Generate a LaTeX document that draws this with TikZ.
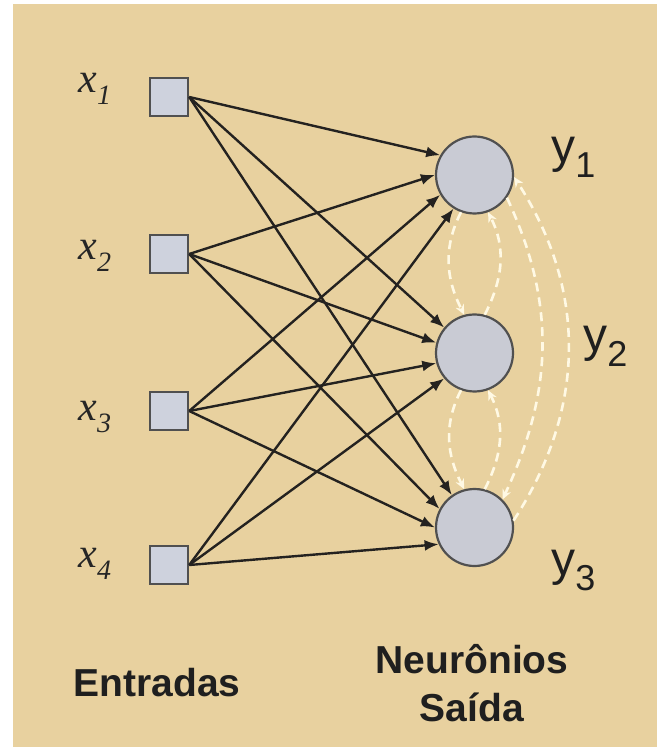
\documentclass[tikz,border=0pt]{standalone}
\usepackage{fontspec}
\setmainfont{Liberation Sans}
\newfontfamily\serifx{Liberation Serif}
\usetikzlibrary{arrows.meta}
\definecolor{tanbg}{RGB}{232,209,159}
\definecolor{circfill}{RGB}{201,203,212}
\definecolor{sqfill}{RGB}{206,210,221}
\definecolor{bordercol}{RGB}{80,80,80}
\definecolor{linecol}{RGB}{36,34,32}
\definecolor{dashcol}{RGB}{255,249,228}
\tikzset{
  inbox/.style={draw=bordercol, line width=1.2pt, fill=sqfill, minimum size=19pt, inner sep=0pt},
  neuron/.style={circle, draw=bordercol, line width=1.1pt, fill=circfill, minimum size=38.5pt, inner sep=0pt},
  conn/.style={draw=linecol, line width=1.2pt, -{Latex[length=7pt,width=5.5pt]}},
  feedback/.style={draw=dashcol, line width=1.3pt, dash pattern=on 4.5pt off 3pt, -{Stealth[length=5pt,width=4.5pt]}},
  ylab/.style={anchor=base west, inner sep=0pt, font=\fontsize{24}{24}\selectfont, text=black!88},
  xlab/.style={anchor=base west, inner sep=0pt, font=\serifx\itshape\fontsize{21}{21}\selectfont, text=black!85},
  caption/.style={font=\bfseries\fontsize{19.5}{24}\selectfont, align=center, inner sep=0pt, text=black!88}
}
\newcommand{\ysub}[1]{\raisebox{-7.5pt}{\fontsize{18}{18}\selectfont #1}}
\newcommand{\xsub}[1]{\raisebox{-6pt}{\fontsize{14}{14}\selectfont #1}}
\begin{document}
\begin{tikzpicture}[x=0.5pt, y=-0.5pt]
\fill[white] (0,0) rectangle (657,747);
\fill[tanbg] (13,4) rectangle (657,747);
\useasboundingbox (0,0) rectangle (657,747);

% inputs
\node[inbox] (x1) at (169,97) {};
\node[inbox] (x2) at (169,254) {};
\node[inbox] (x3) at (169,411) {};
\node[inbox] (x4) at (169,565) {};

\node[xlab] (lx1) at (78,93) {x\xsub{1}};
\node[xlab] (lx2) at (78,260) {x\xsub{2}};
\node[xlab] (lx3) at (78,420) {x\xsub{3}};
\node[xlab] (lx4) at (78,567) {x\xsub{4}};

% neurons
\node[neuron] (y1) at (474.5,175) {};
\node[neuron] (y2) at (474.5,353) {};
\node[neuron] (y3) at (474.5,527.5) {};

\node[ylab] (ly1) at (551,163) {y\ysub{1}};
\node[ylab] (ly2) at (583,352) {y\ysub{2}};
\node[ylab] (ly3) at (551,575) {y\ysub{3}};

% connections
\draw[conn] (x1.east) -- (y1.150);
\draw[conn] (x2.east) -- (y1.180);
\draw[conn] (x3.east) -- (y1.210);
\draw[conn] (x4.east) -- (y1.238);

\draw[conn] (x1.east) -- (y2.140);
\draw[conn] (x2.east) -- (y2.165);
\draw[conn] (x3.east) -- (y2.195);
\draw[conn] (x4.east) -- (y2.220);

\draw[conn] (x1.east) -- (y3.125);
\draw[conn] (x2.east) -- (y3.152);
\draw[conn] (x3.east) -- (y3.180);
\draw[conn] (x4.east) -- (y3.205);

% lateral feedback
\draw[feedback] (y1.250) to[out=243, in=117] (y2.105);
\draw[feedback] (y2.75) to[out=63, in=-63] (y1.290);
\draw[feedback] (y2.250) to[out=243, in=117] (y3.105);
\draw[feedback] (y3.75) to[out=63, in=-63] (y2.290);
\draw[feedback] (y1.-35) to[out=-65, in=65] (y3.45);
\draw[feedback] (y3.10) to[out=57, in=-57] (y1.-3);

% captions
\node[caption] (cin) at (157,683) {Entradas};
\node[caption] (cout) at (472,683) {Neurônios\\Saída};
\end{tikzpicture}
\end{document}
